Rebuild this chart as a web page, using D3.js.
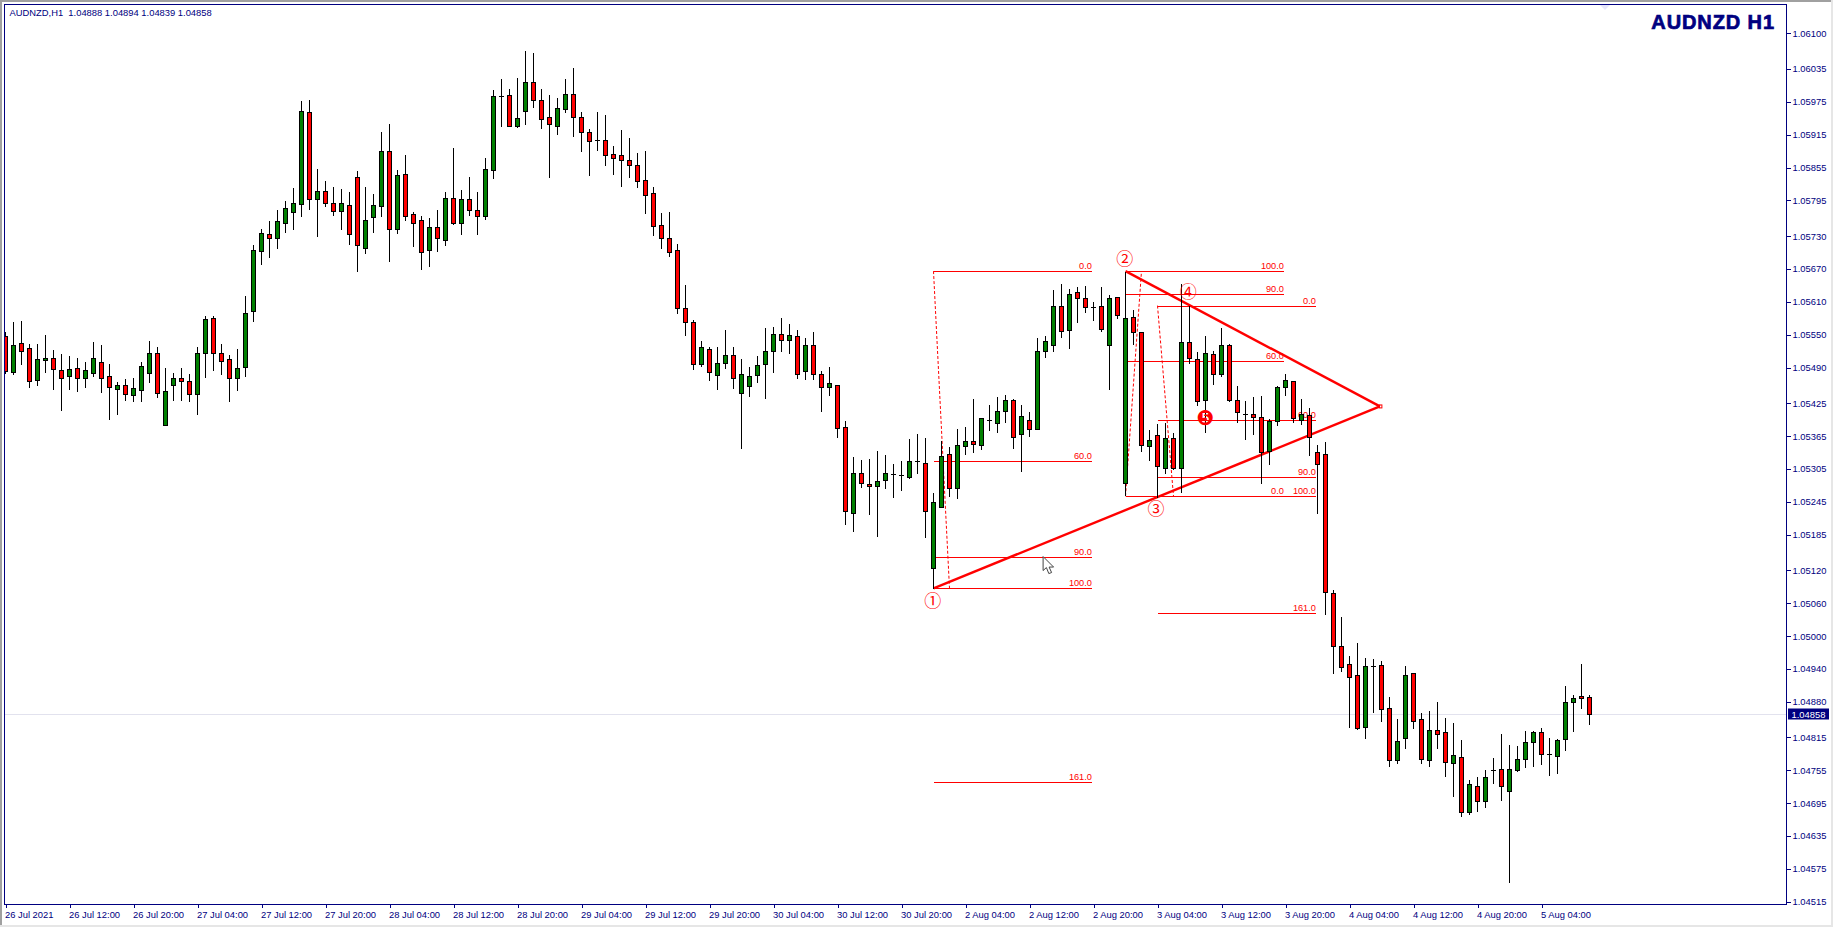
<!DOCTYPE html>
<html><head><meta charset="utf-8">
<script src="https://cdn.jsdelivr.net/npm/d3@7/dist/d3.min.js"></script>
<style>
html,body{margin:0;padding:0;background:#fff;overflow:hidden}
svg{display:block}
text{font-family:"Liberation Sans",Arial,sans-serif}
</style></head><body><svg id="c" width="1833" height="927"></svg>
<script>
const opens=[1.05547,1.05482,1.05534,1.05525,1.05468,1.05504,1.05507,1.05486,1.05475,1.05490,
1.05470,1.05480,1.05501,1.05474,1.05451,1.05459,1.05440,1.05449,1.05480,1.05517,
1.05385,1.05458,1.05470,1.05466,1.05442,1.05517,1.05581,1.05516,1.05505,1.05471,
1.05491,1.05594,1.05703,1.05733,1.05727,1.05754,1.05774,1.05789,1.05956,1.05797,
1.05813,1.05791,1.05776,1.05786,1.05837,1.05709,1.05765,1.05784,1.05886,1.05743,
1.05844,1.05770,1.05760,1.05705,1.05746,1.05723,1.05799,1.05754,1.05797,1.05777,
1.05767,1.05851,1.05986,1.05987,1.05931,1.05959,1.06011,1.05979,1.05947,1.05931,
1.05962,1.05990,1.05948,1.05919,1.05905,1.05905,1.05879,1.05877,1.05868,1.05859,
1.05832,1.05808,1.05751,1.05726,1.05704,1.05598,1.05574,1.05496,1.05524,1.05476,
1.05499,1.05512,1.05443,1.05457,1.05476,1.05496,1.05521,1.05552,1.05540,1.05547,
1.05483,1.05532,1.05478,1.05454,1.05459,1.05381,1.05224,1.05297,1.05277,1.05273,
1.05284,1.05296,1.05293,1.05291,1.05319,1.05315,1.05125,1.05235,1.05332,1.05271,
1.05347,1.05355,1.05348,1.05394,1.05388,1.05410,1.05430,1.05368,1.05395,1.05377,
1.05521,1.05532,1.05602,1.05558,1.05627,1.05616,1.05601,1.05602,1.05532,1.05618,
1.05280,1.05582,1.05554,1.05346,1.05366,1.05306,1.05361,1.05306,1.05536,1.05505,
1.05430,1.05514,1.05478,1.05531,1.05430,1.05406,1.05406,1.05399,1.05337,1.05392,
1.05454,1.05465,1.05395,1.05403,1.05336,1.05332,1.05079,1.04982,1.04948,1.04928,
1.04834,1.04945,1.04947,1.04869,1.04774,1.04814,1.04933,1.04848,1.04774,1.04829,
1.04824,1.04769,1.04780,1.04678,1.04727,1.04699,1.04755,1.04758,1.04718,1.04756,
1.04776,1.04807,1.04824,1.04784,1.04781,1.04812,1.04879,1.04891,1.04888];
const highs=[1.05556,1.05575,1.05577,1.05535,1.05535,1.05551,1.05523,1.05516,1.05513,1.05509,
1.05502,1.05538,1.05533,1.05498,1.05465,1.05471,1.05472,1.05502,1.05540,1.05529,
1.05491,1.05482,1.05491,1.05480,1.05529,1.05586,1.05586,1.05535,1.05514,1.05525,
1.05622,1.05715,1.05744,1.05759,1.05779,1.05796,1.05819,1.05978,1.05980,1.05854,
1.05832,1.05821,1.05818,1.05812,1.05850,1.05821,1.05808,1.05922,1.05936,1.05852,
1.05880,1.05776,1.05768,1.05765,1.05779,1.05812,1.05892,1.05816,1.05840,1.05812,
1.05874,1.05998,1.06018,1.06001,1.06020,1.06070,1.06066,1.06001,1.05990,1.05983,
1.06018,1.06038,1.05958,1.05927,1.05958,1.05953,1.05896,1.05925,1.05911,1.05883,
1.05887,1.05821,1.05774,1.05776,1.05717,1.05642,1.05578,1.05540,1.05529,1.05529,
1.05560,1.05529,1.05507,1.05493,1.05513,1.05564,1.05566,1.05582,1.05571,1.05560,
1.05546,1.05557,1.05485,1.05493,1.05459,1.05394,1.05329,1.05323,1.05325,1.05340,
1.05332,1.05316,1.05321,1.05361,1.05371,1.05363,1.05263,1.05358,1.05347,1.05380,
1.05383,1.05434,1.05400,1.05423,1.05438,1.05442,1.05434,1.05423,1.05411,1.05546,
1.05549,1.05633,1.05644,1.05635,1.05639,1.05641,1.05611,1.05639,1.05624,1.05620,
1.05666,1.05596,1.05557,1.05378,1.05389,1.05391,1.05372,1.05644,1.05604,1.05520,
1.05549,1.05522,1.05564,1.05535,1.05459,1.05431,1.05438,1.05440,1.05397,1.05459,
1.05480,1.05465,1.05434,1.05418,1.05351,1.05355,1.05085,1.05036,1.04965,1.04989,
1.04961,1.04959,1.04956,1.04890,1.04850,1.04947,1.04933,1.04861,1.04865,1.04881,
1.04852,1.04843,1.04812,1.04739,1.04744,1.04757,1.04779,1.04823,1.04803,1.04801,
1.04828,1.04828,1.04834,1.04815,1.04814,1.04910,1.04894,1.04950,1.04894];
const lows=[1.05480,1.05478,1.05496,1.05454,1.05458,1.05482,1.05451,1.05412,1.05451,1.05447,
1.05454,1.05474,1.05445,1.05396,1.05405,1.05431,1.05429,1.05429,1.05463,1.05436,
1.05385,1.05431,1.05431,1.05429,1.05405,1.05472,1.05485,1.05478,1.05429,1.05449,
1.05474,1.05575,1.05679,1.05692,1.05708,1.05737,1.05743,1.05767,1.05779,1.05730,
1.05785,1.05768,1.05743,1.05715,1.05666,1.05699,1.05737,1.05767,1.05684,1.05735,
1.05759,1.05712,1.05670,1.05675,1.05703,1.05714,1.05752,1.05734,1.05768,1.05734,
1.05761,1.05836,1.05931,1.05930,1.05929,1.05934,1.05965,1.05927,1.05838,1.05916,
1.05956,1.05913,1.05885,1.05841,1.05887,1.05860,1.05843,1.05821,1.05838,1.05819,
1.05772,1.05732,1.05708,1.05694,1.05590,1.05549,1.05487,1.05492,1.05467,1.05451,
1.05489,1.05453,1.05343,1.05438,1.05464,1.05434,1.05482,1.05520,1.05516,1.05471,
1.05469,1.05469,1.05411,1.05440,1.05363,1.05204,1.05192,1.05272,1.05223,1.05183,
1.05270,1.05254,1.05267,1.05288,1.05298,1.05181,1.05087,1.05235,1.05255,1.05252,
1.05332,1.05336,1.05341,1.05376,1.05372,1.05391,1.05343,1.05301,1.05365,1.05377,
1.05509,1.05520,1.05546,1.05526,1.05573,1.05591,1.05577,1.05557,1.05451,1.05580,
1.05257,1.05533,1.05338,1.05321,1.05254,1.05298,1.05304,1.05262,1.05498,1.05422,
1.05372,1.05460,1.05475,1.05429,1.05391,1.05360,1.05369,1.05279,1.05314,1.05385,
1.05440,1.05391,1.05387,1.05330,1.05225,1.05041,1.04932,1.04936,1.04834,1.04830,
1.04814,1.04861,1.04845,1.04763,1.04768,1.04795,1.04832,1.04768,1.04763,1.04795,
1.04744,1.04708,1.04671,1.04675,1.04680,1.04688,1.04731,1.04701,1.04551,1.04753,
1.04761,1.04763,1.04766,1.04746,1.04750,1.04792,1.04826,1.04868,1.04839];
const closes=[1.05484,1.05532,1.05521,1.05466,1.05505,1.05508,1.05488,1.05471,1.05488,1.05471,
1.05485,1.05507,1.05471,1.05455,1.05459,1.05442,1.05452,1.05492,1.05517,1.05444,
1.05448,1.05470,1.05466,1.05442,1.05516,1.05579,1.05516,1.05502,1.05471,1.05490,
1.05589,1.05704,1.05735,1.05727,1.05757,1.05781,1.05791,1.05958,1.05798,1.05813,
1.05791,1.05776,1.05790,1.05734,1.05714,1.05759,1.05786,1.05885,1.05743,1.05841,
1.05767,1.05754,1.05701,1.05746,1.05727,1.05799,1.05754,1.05797,1.05778,1.05767,
1.05852,1.05985,1.05986,1.05931,1.05945,1.06011,1.05979,1.05944,1.05934,1.05963,
1.05989,1.05947,1.05919,1.05904,1.05905,1.05878,1.05873,1.05868,1.05860,1.05831,
1.05805,1.05749,1.05727,1.05700,1.05598,1.05574,1.05496,1.05527,1.05481,1.05499,
1.05512,1.05470,1.05478,1.05474,1.05494,1.05521,1.05551,1.05540,1.05549,1.05479,
1.05532,1.05478,1.05454,1.05461,1.05379,1.05229,1.05297,1.05279,1.05273,1.05282,
1.05297,1.05296,1.05293,1.05319,1.05319,1.05228,1.05244,1.05328,1.05271,1.05348,
1.05355,1.05350,1.05397,1.05394,1.05410,1.05430,1.05364,1.05401,1.05377,1.05521,
1.05538,1.05602,1.05556,1.05624,1.05616,1.05600,1.05601,1.05560,1.05616,1.05585,
1.05580,1.05554,1.05348,1.05357,1.05310,1.05361,1.05306,1.05536,1.05507,1.05428,
1.05516,1.05478,1.05532,1.05430,1.05408,1.05406,1.05399,1.05335,1.05392,1.05454,
1.05467,1.05397,1.05406,1.05364,1.05314,1.05080,1.04982,1.04944,1.04925,1.04832,
1.04945,1.04945,1.04867,1.04774,1.04809,1.04928,1.04845,1.04776,1.04828,1.04821,
1.04770,1.04782,1.04679,1.04729,1.04699,1.04742,1.04755,1.04727,1.04758,1.04776,
1.04807,1.04824,1.04785,1.04784,1.04811,1.04880,1.04886,1.04887,1.04858];

const priceTicks=[1.06100,1.06035,1.05975,1.05915,1.05855,1.05795,1.05730,1.05670,1.05610,1.05550,1.05490,1.05425,1.05365,1.05305,1.05245,1.05185,1.05120,1.05060,1.05000,1.04940,1.04880,1.04815,1.04755,1.04695,1.04635,1.04575,1.04515];
const timeTickBars=[0,8,16,24,32,40,48,56,64,72,80,88,96,104,112,120,128,136,144,152,160,168,176,184,192];
const timeTickLabels=["26 Jul 2021","26 Jul 12:00","26 Jul 20:00","27 Jul 04:00","27 Jul 12:00","27 Jul 20:00","28 Jul 04:00","28 Jul 12:00","28 Jul 20:00","29 Jul 04:00","29 Jul 12:00","29 Jul 20:00","30 Jul 04:00","30 Jul 12:00","30 Jul 20:00","2 Aug 04:00","2 Aug 12:00","2 Aug 20:00","3 Aug 04:00","3 Aug 12:00","3 Aug 20:00","4 Aug 04:00","4 Aug 12:00","4 Aug 20:00","5 Aug 04:00"];
const headerText="AUDNZD,H1  1.04888 1.04894 1.04839 1.04858";
const titleText="AUDNZD H1";
const lastPrice=1.04858;

// fibonacci retracements: bar range, 0 level price, 100 level price, shown levels
const fibFrom=[116,140,144];
const fibTo=[135.8,159.8,163.8];
const fib0=[1.05666,1.05255,1.05603];
const fib100=[1.05087,1.05666,1.05255];
const fibLevels=[[0,60,90,100,161],[0,60,90,100],[0,60,90,100,161]];
// dashed fib trend lines: [bar a, price a, bar b, price b]
const fibDashes=[[116,1.05666,118,1.05087],[140,1.05255,142,1.05666],[144,1.05603,146,1.05255]];
// triangle
const triLower=[[116,1.05087],[171.8,1.05419]];
const triUpper=[[140,1.05666],[171.8,1.05419]];
const waveBars=[115.9,139.9,143.8,147.85,150];
const wavePrices=[1.05067,1.05691,1.05234,1.05630,1.05398];
const waveMarks=["①","②","③","④","❺"];
const cursorAt=[129.7,1.05145];

const W=1833,H=927,pL=4,pT=4,pR=1786,pB=904;
const x=d3.scaleLinear().domain([0,198]).range([5.5,1589.5]);
const y=d3.scaleLinear().domain([1.045103,1.061535]).range([904.3,4]);
const py=v=>Math.round(y(v))+0.5;
const navy="#000080",red="#ff0000";
const svg=d3.select("#c");
svg.append("defs").append("clipPath").attr("id","plot").append("rect").attr("x",pL+1).attr("y",pT+1).attr("width",pR-pL-1).attr("height",pB-pT-1);

// window chrome
svg.append("rect").attr("width",W).attr("height",H).attr("fill","#fff");
svg.append("rect").attr("x",0).attr("y",0).attr("width",W).attr("height",2).attr("fill","#a0a0a0");
svg.append("rect").attr("x",0).attr("y",0).attr("width",2).attr("height",H-2).attr("fill","#a0a0a0");
svg.append("rect").attr("x",0).attr("y",H-2).attr("width",W).attr("height",2).attr("fill","#e6e6e6");
svg.append("rect").attr("x",W-2).attr("y",0).attr("width",2).attr("height",H).attr("fill","#e6e6e6");

const plot=svg.append("g").attr("clip-path","url(#plot)");
// chart shift marker
plot.append("path").attr("d",d3.line()([[1600,5],[1610,5],[1605,10]])+"Z").attr("fill","#e6e6fa");
// last price line
plot.append("line").attr("x1",pL).attr("x2",pR).attr("y1",py(lastPrice)).attr("y2",py(lastPrice)).attr("stroke","#e2e2ee");

// fib objects
const fibG=plot.append("g");
fibFrom.forEach((f,k)=>{
  fibLevels[k].forEach(l=>{
    const p=fib0[k]+(fib100[k]-fib0[k])*l/100;
    fibG.append("line").attr("x1",x(f)).attr("x2",x(fibTo[k])).attr("y1",py(p)).attr("y2",py(p)).attr("stroke",red).attr("shape-rendering","crispEdges");
    fibG.append("text").attr("x",x(fibTo[k])).attr("y",py(p)-2.5).attr("text-anchor","end").attr("font-size",9.2).attr("fill",red).text(l.toFixed(1));
  });
});
fibDashes.forEach(d=>{
  fibG.append("line").attr("x1",x(d[0])).attr("y1",y(d[1])).attr("x2",x(d[2])).attr("y2",y(d[3])).attr("stroke",red).attr("stroke-dasharray","3,2");
});
[triLower,triUpper].forEach(t=>{
  fibG.append("path").attr("d",d3.line().x(d=>x(d[0])).y(d=>y(d[1]))(t)).attr("stroke",red).attr("stroke-width",2.4).attr("fill","none");
});
fibG.append("rect").attr("x",x(triLower[1][0])-0.5).attr("y",y(triLower[1][1])-1.5).attr("width",2.5).attr("height",3).attr("fill","none").attr("stroke",red);

// candles
const bars=d3.range(opens.length);
const cg=plot.append("g").attr("shape-rendering","crispEdges");
cg.selectAll("line.w").data(bars).join("line").attr("class","w")
 .attr("x1",i=>x(i)).attr("x2",i=>x(i)).attr("y1",i=>py(highs[i])).attr("y2",i=>py(lows[i])).attr("stroke","#000");
cg.selectAll("rect.b").data(bars.filter(i=>opens[i]!==closes[i])).join("rect").attr("class","b")
 .attr("x",i=>x(i)-2).attr("width",4)
 .attr("y",i=>py(Math.max(opens[i],closes[i])))
 .attr("height",i=>py(Math.min(opens[i],closes[i]))-py(Math.max(opens[i],closes[i])))
 .attr("fill",i=>closes[i]>opens[i]?"#008000":red).attr("stroke","#000");
cg.selectAll("line.d").data(bars.filter(i=>opens[i]===closes[i])).join("line").attr("class","d")
 .attr("x1",i=>x(i)-2.5).attr("x2",i=>x(i)+2.5).attr("y1",i=>py(opens[i])).attr("y2",i=>py(opens[i])).attr("stroke","#000");

// wave marks
waveMarks.forEach((m,k)=>{
  plot.append("text").attr("x",x(waveBars[k])).attr("y",y(wavePrices[k])).attr("text-anchor","middle").attr("dominant-baseline","central")
    .attr("fill",red).attr("font-size",k===4?20:17)
    .style("font-family",k===4?'"DejaVu Sans"':'"Noto Sans CJK JP"').text(m);
});
// mouse cursor
plot.append("path").attr("transform",`translate(${x(cursorAt[0])},${y(cursorAt[1])})`)
  .attr("d",d3.line()([[0,0],[0,14],[3.3,11],[5.7,17],[8.5,16],[6,10.5],[10.5,10.5]])+"Z").attr("fill","#fff").attr("stroke","#444");

// axes
const yAxis=d3.axisRight(y).tickValues(priceTicks).tickFormat(d3.format(".5f")).tickSize(4).tickPadding(2);
const ya=svg.append("g").attr("transform",`translate(${pR+0.5},0)`).call(yAxis);
ya.select(".domain").remove();
ya.selectAll("line").attr("stroke",navy).attr("shape-rendering","crispEdges");
ya.selectAll("text").attr("fill",navy).attr("font-size",9.4).style("font-family",'"Liberation Sans"');
const xAxis=d3.axisBottom(x).tickValues(timeTickBars).tickFormat((d,i)=>timeTickLabels[i]).tickSize(3).tickPadding(2);
const xa=svg.append("g").attr("transform",`translate(0,${pB+0.5})`).call(xAxis);
xa.select(".domain").remove();
xa.selectAll("line").attr("stroke",navy).attr("shape-rendering","crispEdges");
xa.selectAll("text").attr("fill",navy).attr("font-size",9.4).attr("text-anchor","start").attr("dx",-1).attr("dy","0.95em").style("font-family",'"Liberation Sans"');

// frame
svg.append("path").attr("d",`M${pL+.5},${pB+.5}V${pT+.5}H${pR+.5}V${pB+.5}Z`).attr("fill","none").attr("stroke",navy).attr("shape-rendering","crispEdges");

// last price tag
svg.append("rect").attr("x",pR+2).attr("y",py(lastPrice)-6).attr("width",41).attr("height",11).attr("fill",navy);
svg.append("text").attr("x",pR+5.5).attr("y",py(lastPrice)+3).attr("font-size",9.4).attr("fill","#fff").text(lastPrice.toFixed(5));

// header and title
svg.append("text").attr("x",9.5).attr("y",16).attr("font-size",9.4).attr("fill",navy).style("white-space","pre").text(headerText);
svg.append("text").attr("x",1775).attr("y",29).attr("text-anchor","end").attr("font-size",20).attr("font-weight","bold").attr("letter-spacing",0.9)
  .attr("fill",navy).attr("stroke",navy).attr("stroke-width",0.7).text(titleText);
</script></body></html>
